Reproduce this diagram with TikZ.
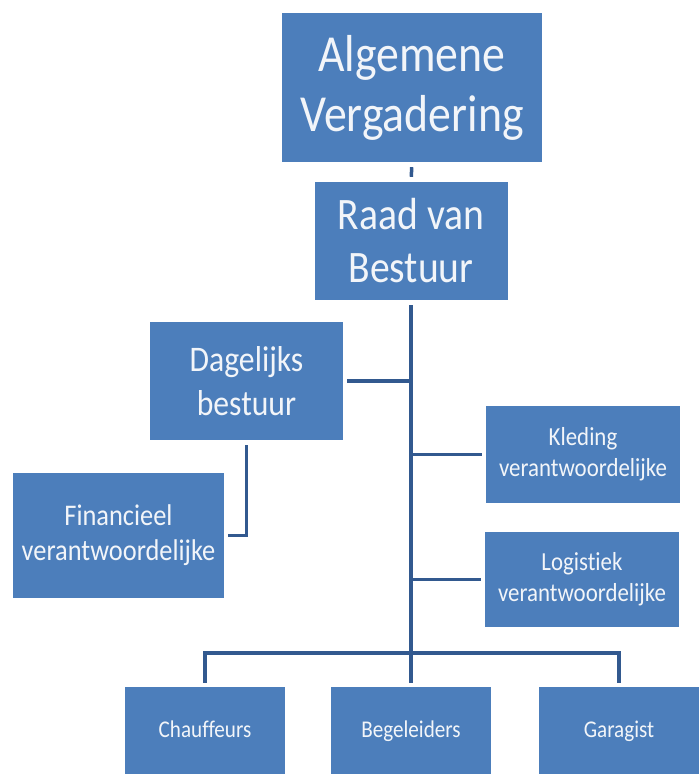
\documentclass[tikz,border=0pt]{standalone}
\usepackage{fontspec}
\setmainfont{Carlito}[FakeStretch=0.88, Ligatures=CommonOff]
\definecolor{boxblue}{HTML}{4C7EBB}
\definecolor{linkblue}{HTML}{32598F}
\definecolor{boxtext}{HTML}{F2F5F9}
\begin{document}
\begin{tikzpicture}[x=1pt,y=-1pt,
  orgbox/.style={fill=boxblue, draw=none, text=boxtext, align=center, inner sep=0pt},
  link/.style={draw=linkblue, line width=3.5pt, line join=miter}]
\clip (0,0) rectangle (699,774);
\fill[white] (0,0) rectangle (699,774);
% boxes
\node[orgbox, minimum width=260pt, minimum height=149pt, font=\fontsize{52}{60}\selectfont] (alg) at (412,87.5) {Algemene\\Vergadering};
\node[orgbox, minimum width=193pt, minimum height=118pt, font=\fontsize{45}{53}\selectfont] (raad) at (411,241) {Raad van\\Bestuur};
\node[orgbox, minimum width=193pt, minimum height=118pt, font=\fontsize{36}{44}\selectfont] (dag) at (246.5,381) {Dagelijks\\bestuur};
\node[orgbox, minimum width=211pt, minimum height=125pt, font=\fontsize{30}{35}\selectfont] (fin) at (118.5,535.5) {Financieel\\verantwoordelijke};
\node[orgbox, minimum width=194pt, minimum height=97pt, font=\fontsize{26}{31}\selectfont] (kled) at (583,454.5) {Kleding\\verantwoordelijke};
\node[orgbox, minimum width=194pt, minimum height=95pt, font=\fontsize{26}{31}\selectfont] (log) at (582,579.5) {Logistiek\\verantwoordelijke};
\node[orgbox, minimum width=160pt, minimum height=104pt, font=\fontsize{24}{29}\selectfont] (chauf) at (205,739) {\raisebox{20pt}{Chauffeurs}};
\node[orgbox, minimum width=160pt, minimum height=104pt, font=\fontsize{24}{29}\selectfont] (begel) at (411,739) {\raisebox{20pt}{Begeleiders}};
\node[orgbox, minimum width=160pt, minimum height=104pt, font=\fontsize{24}{29}\selectfont] (gar) at (619,739) {\raisebox{20pt}{Garagist}};
\coordinate (bar) at (411,653);
% connectors
\draw[link, shorten <=5pt, shorten >=5pt] (alg.south) -- (raad.north);
\draw[link, shorten <=5pt] (raad.south) -- (raad.south |- bar);
\draw[link, shorten <=4pt] (dag.east) -- (dag.east -| raad.south);
\draw[link, shorten <=4pt] (kled.west) -- (kled.west -| raad.south);
\draw[link, shorten <=4pt] (log.west) -- (log.west -| raad.south);
\draw[link, shorten <=5pt, shorten >=4pt] (dag.south) |- (fin.east);
\draw[link, shorten <=4pt, shorten >=4pt] (chauf.north) -- (chauf.north |- bar) -- (gar.north |- bar) -- (gar.north);
\draw[link, shorten >=4pt] (bar) -- (begel.north);
\end{tikzpicture}
\end{document}
